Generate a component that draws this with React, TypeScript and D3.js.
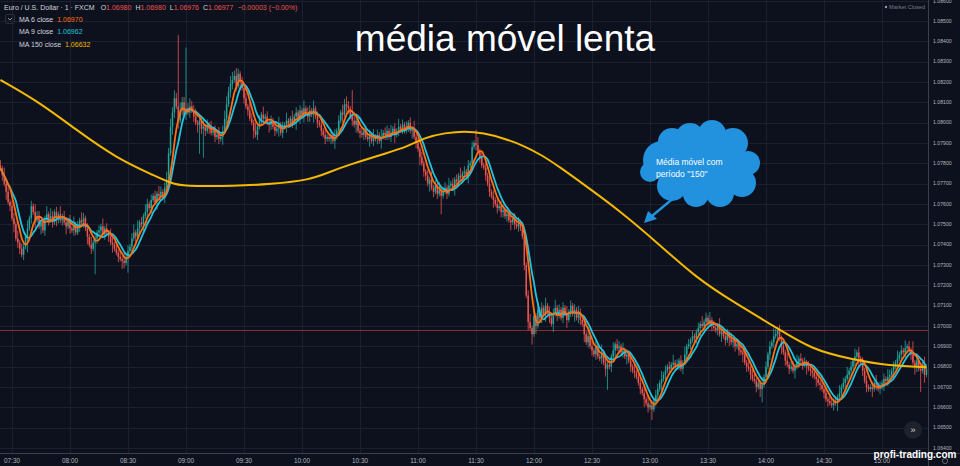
import { useEffect, useRef } from 'react';
import * as d3 from 'd3';

// prices are kept as points (0.00001) above 1.06000
const BASE = 1.06;
const firstOpen = 1790;

// 1-minute closes from 07:24 to 15:23
const closes = [
  1775, 1740, 1700, 1660, 1610, 1590, 1530, 1500, 1430, 1410,
  1380, 1350, 1390, 1440, 1480, 1530, 1590, 1560, 1520, 1540,
  1490, 1510, 1470, 1530, 1550, 1520, 1540, 1510, 1560, 1530,
  1550, 1520, 1540, 1510, 1490, 1520, 1480, 1470, 1500, 1460,
  1490, 1520, 1510, 1530, 1480, 1440, 1400, 1380, 1410, 1430,
  1460, 1470, 1490, 1450, 1480, 1460, 1440, 1410, 1400, 1380,
  1360, 1340, 1330, 1320, 1310, 1340, 1370, 1390, 1430, 1460,
  1440, 1480, 1510, 1500, 1540, 1560, 1600, 1580, 1620, 1640,
  1610, 1650, 1640, 1660, 1630, 1680, 1720, 1850, 1980, 2050,
  2120, 2080, 2010, 2060, 2100, 2040, 2070, 2050, 2080, 2060,
  2030, 2000, 1990, 2010, 1970, 1980, 1960, 1990, 1970, 1950,
  1960, 1930, 1940, 1920, 1930, 1960, 2020, 2090, 2150, 2190,
  2210, 2230, 2180, 2240, 2200, 2170, 2120, 2080, 2060, 2020,
  2000, 1960, 1940, 1980, 2010, 2040, 2020, 2030, 2000, 1990,
  2010, 1980, 1960, 1970, 1990, 1950, 1980, 1990, 2010, 1990,
  2020, 2000, 2030, 2050, 2020, 2060, 2040, 2070, 2050, 2030,
  2060, 2040, 2070, 2030, 2000, 1990, 1960, 1940, 1920, 1930,
  1920, 1940, 1910, 1930, 1960, 2010, 2050, 2040, 2090, 2080,
  2070, 2030, 2010, 1990, 2010, 1960, 1950, 1940, 1960, 1930,
  1920, 1940, 1910, 1930, 1920, 1940, 1910, 1930, 1950, 1940,
  1960, 1930, 1950, 1970, 1940, 1960, 1980, 1970, 1990, 1960,
  1980, 2000, 1960, 1970, 1930, 1900, 1870, 1830, 1800, 1760,
  1740, 1700, 1720, 1680, 1660, 1690, 1650, 1670, 1640, 1660,
  1680, 1650, 1690, 1700, 1680, 1720, 1710, 1740, 1730, 1750,
  1760, 1740, 1790, 1800, 1880, 1900, 1890, 1860, 1830, 1790,
  1780, 1740, 1700, 1660, 1640, 1620, 1600, 1580, 1590, 1560,
  1570, 1540, 1550, 1520, 1510, 1530, 1500, 1490, 1510, 1480,
  1440, 1300, 1150, 1020, 990, 960, 1050, 1000, 1080, 1040,
  1090, 1060, 1100, 1070, 1040, 1010, 1060, 1090, 1050, 1080,
  1040, 1090, 1060, 1030, 1070, 1100, 1060, 1080, 1040, 1060,
  1030, 1010, 960, 920, 950, 900, 880, 860, 900, 850,
  840, 870, 820, 790, 810, 800, 850, 880, 910, 890,
  900, 870, 880, 850, 860, 830, 800, 780, 770, 750,
  720, 690, 670, 640, 620, 600, 610, 590, 630, 660,
  690, 720, 740, 760, 780, 800, 790, 810, 820, 800,
  810, 830, 790, 820, 860, 900, 910, 930, 950, 940,
  970, 990, 1010, 1000, 1020, 1040, 1010, 1030, 1000, 990,
  980, 1000, 960, 970, 950, 930, 960, 940, 920, 930,
  900, 910, 880, 870, 860, 820, 800, 790, 760, 740,
  730, 700, 720, 690, 710, 750, 800, 860, 900, 920,
  950, 960, 980, 940, 900, 870, 830, 810, 790, 800,
  780, 800, 820, 840, 830, 810, 820, 800, 790, 780,
  770, 750, 740, 720, 710, 690, 670, 640, 630, 620,
  610, 630, 620, 650, 670, 700, 720, 740, 760, 780,
  800, 830, 850, 870, 840, 820, 780, 730, 700, 690,
  700, 690, 720, 710, 690, 700, 720, 740, 730, 750,
  760, 780, 800, 820, 840, 860, 880, 870, 890, 900,
  880, 860, 820, 800, 830, 790, 780, 810, 760, 790,
];

// wick lengths, one base-36 digit per candle (unit = WICK_UNIT points)
const WICK_UNIT = 13;
const wickUp = [
  '2131212213', '1221312132', '2121313212', '1312212131', '2132121312',
  '1213121321', '2121312123', '1312132121', '2132123232', '32r322n232',
  '2312131213', '1213123323', '3232121213', '2131213121', '2121312131',
  '1312121312', '2131212121', '1213121323', '21a3121212', '1213121312',
  '2131213121', '2121312121', '1213121312', '2131212131', '2121215312',
  '1213121212', '2121312121', '1312312131', '2131212312', '1213121213',
  '2121312121', '1312121312', '2131212131', '1212131212', '2131212131',
  '2121312121', '1213121312', '2131212121', '1212131212', '2121312121',
  '3212121312', '2131212121', '1212131212', '2121312131', '2131212121',
  '1213121213', '2121312131', '2151212131',
].join('');
const wickDn = [
  '1213121312', '2121612131', '1312121213', '2121312121', '121213121c',
  '2131212131', '1213216121', '2121312121', '1312121213', '2131212121',
  '213b2b2121', '1212131212', '2121312121', '1312121213', '2121312131',
  '1215121312', '2131212121', '1213121312', '2121312121', '1312121312',
  '2121312121', '1213121312', '2131212171', '1212131212', '2131212121',
  '1212131212', '2121312121', '1213141312', '2131213121', '1213121312',
  '2131212121', '1213812131', '2121312121', '1213121412', '2131212121',
  '1212131212', '2131212121', '1213121312', '2121312121', '1213512121',
  '2121312121', '1312121312', '2131212121', '1213121312', '2121312121',
  '1312121312', '2131212121', '1213218131',
].join('');

// MA 150 (minutes after 07:24)
const ma150Minutes = [0, 20, 40, 60, 80, 90, 100, 120, 140, 160, 170, 180, 200, 210, 220, 230, 240, 250, 260, 270, 280, 290, 300, 320, 340, 360, 380, 400, 420, 440, 460, 479];
const ma150Points = [2210, 2102, 1959, 1826, 1738, 1693, 1688, 1688, 1698, 1718, 1757, 1792, 1851, 1880, 1929, 1949, 1959, 1949, 1924, 1890, 1841, 1777, 1708, 1570, 1408, 1236, 1113, 1000, 882, 837, 803, 798];

const priceTicks = [1.064, 1.065, 1.066, 1.067, 1.068, 1.069, 1.07, 1.071, 1.072, 1.073, 1.074, 1.075, 1.076, 1.077, 1.078, 1.079, 1.08, 1.081, 1.082, 1.083, 1.084, 1.085, 1.086];
const timeTicks = ['07:30', '08:00', '08:30', '09:00', '09:30', '10:00', '10:30', '11:00', '11:30', '12:00', '12:30', '13:00', '13:30', '14:00', '14:30', '15:00'];
const lastPrice = 1.0698;

const legend = [
  { label: 'MA 6 close', value: '1.06970', color: '#ff6f14' },
  { label: 'MA 9 close', value: '1.06962', color: '#22c4dc' },
  { label: 'MA 150 close', value: '1.06632', color: '#f5b800' },
];

const UP = '#26a69a';
const DOWN = '#ef5350';
const FONT = '"Liberation Sans", Arial, sans-serif';

const day = (h: number, m: number) => new Date(2023, 0, 2, h, m);

export default function App() {
  const svgRef = useRef<SVGSVGElement>(null);

  useEffect(() => {
    if (!svgRef.current) return;
    document.body.style.margin = '0';

    const width = 960;
    const height = 466;
    const plotW = 928;
    const plotH = 453;

    const svg = d3.select(svgRef.current);
    svg.selectAll('*').remove();

    svg.append('rect').attr('width', width).attr('height', height).attr('fill', '#0c111d');

    const x = d3.scaleTime().domain([day(7, 30), day(15, 0)]).range([12, 882]);
    const y = d3.scaleLinear().domain([1.064, 1.085]).range([448, 21]);
    const px = (p: number) => y(BASE + p / 1e5);

    const candles = closes.map((c, i) => {
      const o = i ? closes[i - 1] : firstOpen;
      return {
        t: day(7, 24 + i),
        o,
        c,
        h: Math.max(o, c) + parseInt(wickUp[i], 36) * WICK_UNIT,
        l: Math.min(o, c) - parseInt(wickDn[i], 36) * WICK_UNIT,
      };
    });

    svg.append('clipPath').attr('id', 'plot')
      .append('rect').attr('width', plotW).attr('height', plotH);

    // grid
    const grid = svg.append('g').attr('stroke', '#1a2030').attr('stroke-width', 1);
    grid.selectAll('line.h')
      .data(priceTicks)
      .join('line')
      .attr('x1', 0).attr('x2', plotW)
      .attr('y1', d => Math.round(y(d)) + 0.5).attr('y2', d => Math.round(y(d)) + 0.5);
    const parseHM = (s: string) => day(+s.slice(0, 2), +s.slice(3));
    grid.selectAll('line.v')
      .data(timeTicks)
      .join('line')
      .attr('y1', 0).attr('y2', plotH)
      .attr('x1', d => Math.round(x(parseHM(d))) + 0.5).attr('x2', d => Math.round(x(parseHM(d))) + 0.5);

    const plot = svg.append('g').attr('clip-path', 'url(#plot)');

    // last price line
    plot.append('line')
      .attr('x1', 0).attr('x2', plotW)
      .attr('y1', Math.round(y(lastPrice)) + 0.5).attr('y2', Math.round(y(lastPrice)) + 0.5)
      .attr('stroke', '#8a2c30').attr('stroke-width', 1);

    // candles
    const cg = plot.append('g');
    cg.selectAll('line')
      .data(candles)
      .join('line')
      .attr('x1', d => x(d.t)).attr('x2', d => x(d.t))
      .attr('y1', d => px(d.h)).attr('y2', d => px(d.l))
      .attr('stroke', d => (d.c >= d.o ? UP : DOWN))
      .attr('stroke-width', 0.8);
    cg.selectAll('rect')
      .data(candles)
      .join('rect')
      .attr('x', d => x(d.t) - 0.75)
      .attr('width', 1.5)
      .attr('y', d => px(Math.max(d.o, d.c)))
      .attr('height', d => Math.max(0.8, Math.abs(px(d.o) - px(d.c))))
      .attr('fill', d => (d.c >= d.o ? UP : DOWN));

    // moving averages
    const sma = (n: number) => closes.map((_, i) => d3.mean(closes.slice(Math.max(0, i - n + 1), i + 1)) as number);
    const maLine = d3.line<number>()
      .x((_, i) => x(day(7, 24 + i)))
      .y(d => px(d))
      .curve(d3.curveMonotoneX);

    plot.append('path').datum(sma(9))
      .attr('fill', 'none').attr('stroke', legend[1].color).attr('stroke-width', 1.8)
      .attr('d', maLine);
    plot.append('path').datum(sma(6))
      .attr('fill', 'none').attr('stroke', legend[0].color).attr('stroke-width', 1.8)
      .attr('d', maLine);

    const slowLine = d3.line<number>()
      .x((_, i) => x(day(7, 24 + ma150Minutes[i])))
      .y(d => px(d))
      .curve(d3.curveBasis);
    plot.append('path').datum(ma150Points)
      .attr('fill', 'none').attr('stroke', legend[2].color).attr('stroke-width', 2)
      .attr('d', slowLine);

    // axes frame
    svg.append('line').attr('x1', plotW + 0.5).attr('x2', plotW + 0.5).attr('y1', 0).attr('y2', height)
      .attr('stroke', '#3a3f4c');
    svg.append('line').attr('x1', 0).attr('x2', width).attr('y1', plotH + 0.5).attr('y2', plotH + 0.5)
      .attr('stroke', '#3a3f4c');

    svg.append('g')
      .attr('font-family', FONT).attr('font-size', 5.2).attr('fill', '#b2b5be')
      .selectAll('text')
      .data(priceTicks)
      .join('text')
      .attr('x', 933)
      .attr('y', d => y(d))
      .attr('dy', '0.35em')
      .text(d => d3.format('.5f')(d));

    svg.append('g')
      .attr('font-family', FONT).attr('font-size', 6.4).attr('fill', '#b2b5be')
      .selectAll('text')
      .data(timeTicks)
      .join('text')
      .attr('x', d => x(parseHM(d)))
      .attr('y', 463)
      .attr('text-anchor', 'middle')
      .text(d => d);

    // header
    const head = svg.append('text')
      .attr('x', 4).attr('y', 9.5)
      .attr('font-family', FONT).attr('font-size', 7).attr('fill', '#d1d4dc');
    head.append('tspan').text('Euro / U.S. Dollar · 1 · FXCM');
    const ohlc = [['O', '1.06980'], ['H', '1.06980'], ['L', '1.06976'], ['C', '1.06977']];
    ohlc.forEach(([k, v], i) => {
      head.append('tspan').attr('dx', i ? 4 : 6).text(k);
      head.append('tspan').attr('fill', DOWN).text(v);
    });
    head.append('tspan').attr('dx', 4).attr('fill', DOWN).text('−0.00003 (−0.00%)');

    svg.append('rect').attr('x', 5.5).attr('y', 14.5).attr('width', 9).attr('height', 9).attr('rx', 1.5)
      .attr('fill', 'none').attr('stroke', '#2a2e39');
    svg.append('path').attr('d', 'M8 18 L10 20 L12 18').attr('fill', 'none').attr('stroke', '#b2b5be').attr('stroke-width', 0.8);

    legend.forEach((m, i) => {
      const t = svg.append('text')
        .attr('x', 19).attr('y', 21.5 + i * 12.5)
        .attr('font-family', FONT).attr('font-size', 7).attr('fill', '#d1d4dc');
      t.append('tspan').text(m.label);
      t.append('tspan').attr('dx', 4).attr('fill', m.color).text(m.value);
    });

    svg.append('circle').attr('cx', 886).attr('cy', 7).attr('r', 1.2).attr('fill', '#9598a1');
    svg.append('text').attr('x', 889).attr('y', 9)
      .attr('font-family', FONT).attr('font-size', 5.6).attr('fill', '#787b86')
      .text('Market Closed');

    // title
    svg.append('text')
      .attr('x', 505).attr('y', 51)
      .attr('text-anchor', 'middle')
      .attr('font-family', FONT).attr('font-size', 37).attr('fill', '#ffffff')
      .text('média móvel lenta');

    // cloud annotation
    const blue = '#2291de';
    const cloud = svg.append('g').attr('fill', blue);
    cloud.append('ellipse').attr('cx', 700).attr('cy', 167).attr('rx', 46).attr('ry', 28);
    [[662, 160, 19], [672, 142, 14], [690, 138, 15], [712, 134, 14], [733, 143, 15], [748, 163, 12], [742, 183, 14], [720, 193, 14], [696, 194, 13], [672, 186, 15], [650, 172, 10]]
      .forEach(([cx, cy, r]) => cloud.append('circle').attr('cx', cx).attr('cy', cy).attr('r', r));
    svg.append('line').attr('x1', 676).attr('y1', 196).attr('x2', 652).attr('y2', 216)
      .attr('stroke', blue).attr('stroke-width', 2.4);
    svg.append('path').attr('d', 'M644 223 L648 211 L657 219 Z').attr('fill', blue);
    const note = svg.append('text').attr('font-family', FONT).attr('font-size', 8.5).attr('fill', '#ffffff');
    note.append('tspan').attr('x', 656).attr('y', 165).text('Média móvel com');
    note.append('tspan').attr('x', 656).attr('y', 177).text('período "150"');

    // scroll button and watermark
    svg.append('circle').attr('cx', 913).attr('cy', 430).attr('r', 9).attr('fill', '#1e222d');
    svg.append('text').attr('x', 913).attr('y', 433).attr('text-anchor', 'middle')
      .attr('font-family', FONT).attr('font-size', 9).attr('fill', '#d1d4dc').text('»');
    svg.append('text').attr('x', 915).attr('y', 458).attr('text-anchor', 'middle')
      .attr('font-family', FONT).attr('font-size', 10).attr('font-weight', 'bold').attr('fill', '#ffffff')
      .text('profi-trading.com');
    svg.append('circle').attr('cx', 945).attr('cy', 461).attr('r', 2.6)
      .attr('fill', 'none').attr('stroke', '#787b86').attr('stroke-width', 0.8);
  }, []);

  return <svg ref={svgRef} width={960} height={466} style={{ display: 'block' }} />;
}
